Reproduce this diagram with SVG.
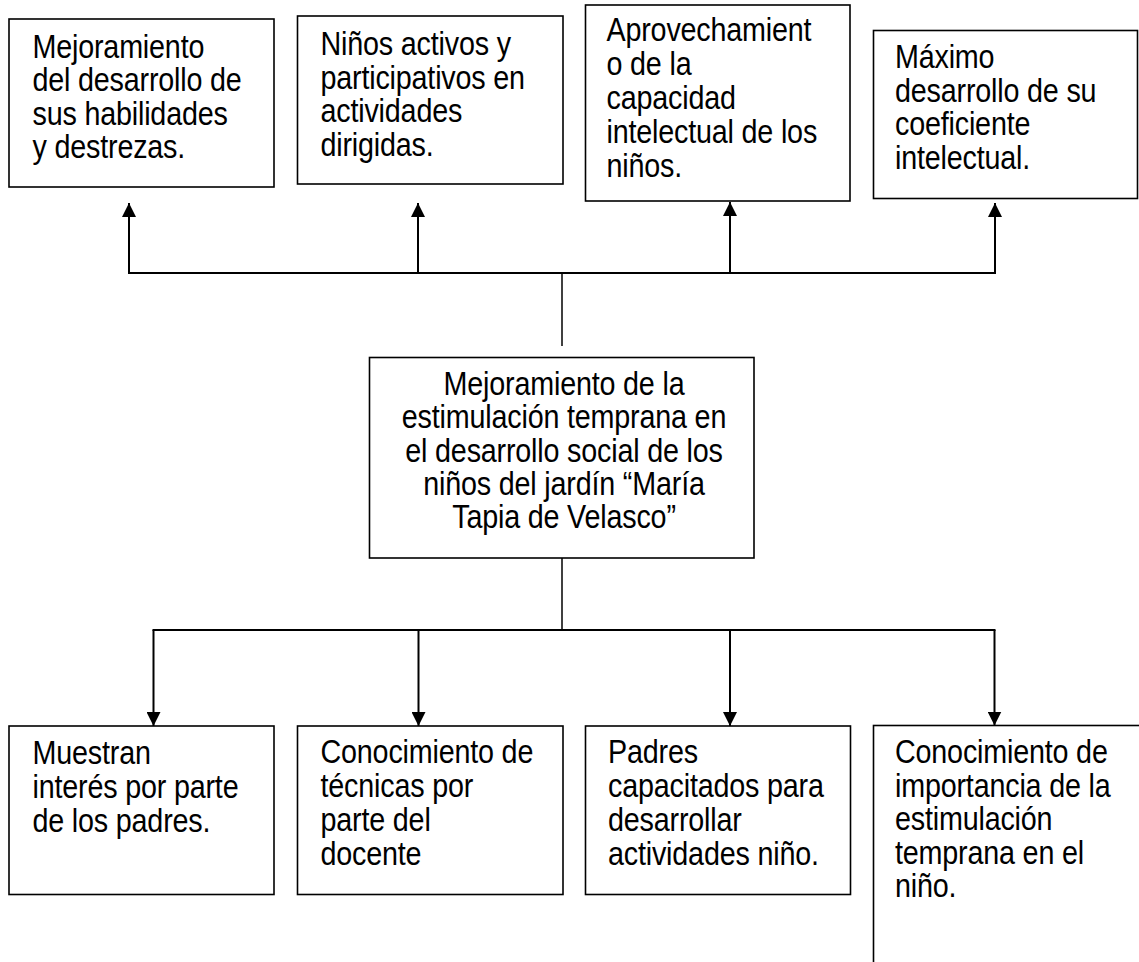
<svg xmlns="http://www.w3.org/2000/svg" width="1139" height="962" viewBox="0 0 1139 962">
<style>
.box{fill:#fff;stroke:#000;stroke-width:1.6}
.t{font-family:"Liberation Sans",Arial,sans-serif;font-size:33px;letter-spacing:-0.2px;fill:#000}
.c{text-anchor:middle}
.ln{fill:none;stroke:#000;stroke-width:2}
.st{fill:none;stroke:#000;stroke-width:1.5}
</style>
<defs>
<marker id="ah" viewBox="0 0 14 14" refX="14" refY="7" markerWidth="14" markerHeight="14" markerUnits="userSpaceOnUse" orient="auto">
<path d="M0,0 L14,7 L0,14 z" fill="#000"/>
</marker>
</defs>
<rect width="1139" height="962" fill="#fff"/>
<g id="connectors">
<line class="ln" x1="128" y1="273" x2="996" y2="273"/>
<line class="st" x1="562" y1="273" x2="562" y2="346"/>
<line class="ln" x1="129" y1="273" x2="129" y2="203" marker-end="url(#ah)"/>
<line class="ln" x1="418" y1="273" x2="418" y2="203" marker-end="url(#ah)"/>
<line class="ln" x1="730" y1="273" x2="730" y2="202" marker-end="url(#ah)"/>
<line class="ln" x1="995" y1="273" x2="995" y2="203" marker-end="url(#ah)"/>
<line class="st" x1="562" y1="558" x2="562" y2="630"/>
<line class="ln" x1="152.5" y1="630" x2="995.5" y2="630"/>
<line class="ln" x1="153.5" y1="630" x2="153.5" y2="726" marker-end="url(#ah)"/>
<line class="ln" x1="418.5" y1="630" x2="418.5" y2="726" marker-end="url(#ah)"/>
<line class="ln" x1="730" y1="630" x2="730" y2="726" marker-end="url(#ah)"/>
<line class="ln" x1="994.5" y1="630" x2="994.5" y2="725.5" marker-end="url(#ah)"/>
</g>
<g id="node-top1">
<rect class="box" x="9" y="19" width="265" height="168"/>
<text class="t" transform="translate(32.5,0) scale(0.87,1)"><tspan x="0" y="58">Mejoramiento</tspan><tspan x="0" y="91.5">del desarrollo de</tspan><tspan x="0" y="125">sus habilidades</tspan><tspan x="0" y="158.5">y destrezas.</tspan></text>
</g>
<g id="node-top2">
<rect class="box" x="297.5" y="16" width="265.5" height="168"/>
<text class="t" transform="translate(320.5,0) scale(0.87,1)"><tspan x="0" y="55.5">Niños activos y</tspan><tspan x="0" y="89">participativos en</tspan><tspan x="0" y="122.5">actividades</tspan><tspan x="0" y="156">dirigidas.</tspan></text>
</g>
<g id="node-top3">
<rect class="box" x="585.5" y="5" width="264.5" height="196"/>
<text class="t" transform="translate(606.5,0) scale(0.87,1)"><tspan x="0" y="41">Aprovechamient</tspan><tspan x="0" y="75">o de la</tspan><tspan x="0" y="109">capacidad</tspan><tspan x="0" y="143">intelectual de los</tspan><tspan x="0" y="177">niños.</tspan></text>
</g>
<g id="node-top4">
<rect class="box" x="873.5" y="30.5" width="264" height="168"/>
<text class="t" transform="translate(895,0) scale(0.87,1)"><tspan x="0" y="68.5">Máximo</tspan><tspan x="0" y="102">desarrollo de su</tspan><tspan x="0" y="135.5">coeficiente</tspan><tspan x="0" y="169">intelectual.</tspan></text>
</g>
<g id="node-center">
<rect class="box" x="369.5" y="357.5" width="384.5" height="200.5"/>
<text class="t c" transform="translate(564,0) scale(0.87,1)"><tspan x="0" y="395">Mejoramiento de la</tspan><tspan x="0" y="428.3">estimulación temprana en</tspan><tspan x="0" y="461.7">el desarrollo social de los</tspan><tspan x="0" y="495">niños del jardín “María</tspan><tspan x="0" y="528">Tapia de Velasco”</tspan></text>
</g>
<g id="node-bottom1">
<rect class="box" x="9" y="726" width="265" height="168.5"/>
<text class="t" transform="translate(32.5,0) scale(0.87,1)"><tspan x="0" y="764">Muestran</tspan><tspan x="0" y="798">interés por parte</tspan><tspan x="0" y="832">de los padres.</tspan></text>
</g>
<g id="node-bottom2">
<rect class="box" x="297.5" y="726" width="265.5" height="168.5"/>
<text class="t" transform="translate(320.5,0) scale(0.87,1)"><tspan x="0" y="763.5">Conocimiento de</tspan><tspan x="0" y="797.5">técnicas por</tspan><tspan x="0" y="831.5">parte del</tspan><tspan x="0" y="865.5">docente</tspan></text>
</g>
<g id="node-bottom3">
<rect class="box" x="585.5" y="726" width="265" height="168.5"/>
<text class="t" transform="translate(608,0) scale(0.87,1)"><tspan x="0" y="763.5">Padres</tspan><tspan x="0" y="797.5">capacitados para</tspan><tspan x="0" y="831.5">desarrollar</tspan><tspan x="0" y="865.5">actividades niño.</tspan></text>
</g>
<g id="node-bottom4">
<rect class="box" x="873.5" y="725.5" width="270" height="260"/>
<text class="t" transform="translate(895,0) scale(0.87,1)"><tspan x="0" y="763.5">Conocimiento de</tspan><tspan x="0" y="797">importancia de la</tspan><tspan x="0" y="830.5">estimulación</tspan><tspan x="0" y="864">temprana en el</tspan><tspan x="0" y="897.5">niño.</tspan></text>
</g>
</svg>
